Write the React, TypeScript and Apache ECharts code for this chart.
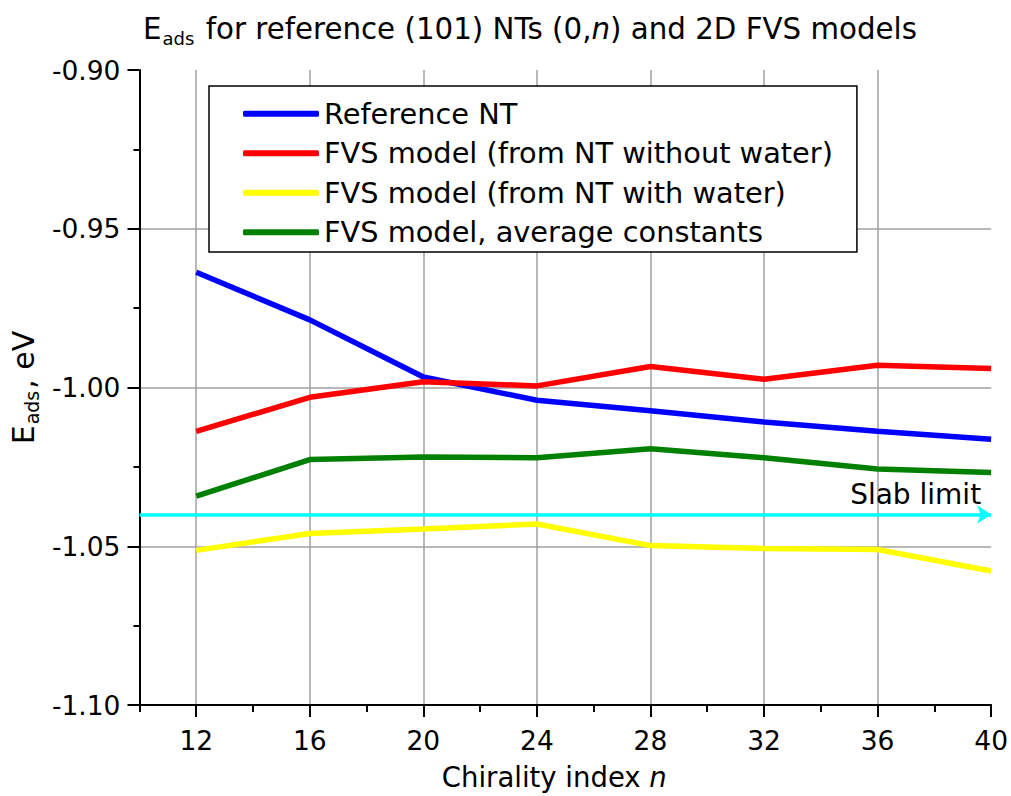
import React, { useEffect, useRef } from "react";
import * as echarts from "echarts";

const chirality = [12, 16, 20, 24, 28, 32, 36, 40];
const referenceNT = [-0.9637, -0.9787, -0.9967, -1.004, -1.0073, -1.0109, -1.0138, -1.0163];
const fvsNoWater = [-1.0138, -1.0031, -0.9982, -0.9995, -0.9934, -0.9974, -0.993, -0.994];
const fvsWithWater = [-1.0513, -1.046, -1.0446, -1.043, -1.0498, -1.0507, -1.051, -1.0578];
const fvsAverage = [-1.0342, -1.0227, -1.0219, -1.0221, -1.0193, -1.0221, -1.0257, -1.0268];
const slabLimit = -1.04;
const xMajorTicks = [12, 16, 20, 24, 28, 32, 36, 40];
const xMinorTicks = [10, 14, 18, 22, 26, 30, 34, 38];

const seriesNames = [
  "Reference NT",
  "FVS model (from NT without water)",
  "FVS model (from NT with water)",
  "FVS model, average constants",
];
const seriesColors = ["#0000ff", "#ff0000", "#ffff00", "#008000"];
const seriesValues = [referenceNT, fvsNoWater, fvsWithWater, fvsAverage];

const FONT = "DejaVu Sans";

export default function App() {
  const ref = useRef<HTMLDivElement>(null);
  useEffect(() => {
    if (!ref.current) return;
    const chart = echarts.init(ref.current, null, { renderer: "svg" });
    const lines = seriesNames.map((name, i) => ({
      name,
      type: "line",
      data: chirality.map((x, j) => [x, seriesValues[i][j]]),
      symbol: "none",
      lineStyle: { color: seriesColors[i], width: 5.5 },
      itemStyle: { color: seriesColors[i] },
      z: 3,
    }));
    chart.setOption({
      animation: false,
      backgroundColor: "#fff",
      title: {
        text: "{e|E}{s|ads}{e| for reference (101) NTs (0,}{i|n}{e|) and 2D FVS models}",
        left: 138,
        top: 6,
        textStyle: {
          fontWeight: "normal",
          rich: {
            e: { fontSize: 29.3, fontFamily: FONT, fontWeight: "normal", color: "#000", lineHeight: 36, verticalAlign: "middle" },
            i: { fontSize: 29.3, fontFamily: FONT, fontWeight: "normal", fontStyle: "italic", color: "#000", lineHeight: 36, verticalAlign: "middle" },
            s: { fontSize: 18, fontFamily: FONT, fontWeight: "normal", color: "#000", lineHeight: 18, verticalAlign: "bottom", padding: [0, 2, 0, 1] },
          },
        },
      },
      legend: {
        data: seriesNames,
        orient: "vertical",
        left: 209,
        top: 86,
        borderColor: "#000",
        borderWidth: 1.5,
        backgroundColor: "#fff",
        padding: [8, 24, 0, 34],
        itemGap: 0,
        itemWidth: 76,
        itemHeight: 6,
        icon: "roundRect",
        textStyle: { fontSize: 28.8, fontFamily: FONT, color: "#000", lineHeight: 39.5 },
        z: 10,
      },
      grid: { left: 137, right: 16, top: 70, bottom: 86, containLabel: false },
      xAxis: [
        {
          type: "value",
          min: 10,
          max: 40,
          name: "{t|Chirality index }{i|n}",
          nameLocation: "middle",
          nameGap: 58,
          nameTextStyle: {
            padding: [0, 22, 0, 0],
            rich: {
              t: { fontSize: 27.5, fontFamily: FONT, color: "#000" },
              i: { fontSize: 27.5, fontFamily: FONT, fontStyle: "italic", color: "#000" },
            },
          },
          axisLine: { show: true, onZero: false, lineStyle: { color: "#000", width: 2 } },
          axisTick: { show: true, customValues: xMajorTicks, length: 12, lineStyle: { color: "#000", width: 2 } },
          axisLabel: { customValues: xMajorTicks, fontSize: 26.5, fontFamily: FONT, color: "#000", margin: 22 },
          splitLine: { show: true, showMaxLine: false, lineStyle: { color: "#a0a0a0", width: 1.5 } },
        },
        {
          type: "value",
          min: 10,
          max: 40,
          position: "bottom",
          axisLine: { show: false, onZero: false },
          axisTick: { show: true, customValues: xMinorTicks, length: 7, lineStyle: { color: "#000", width: 2 } },
          axisLabel: { show: false, customValues: xMinorTicks },
          splitLine: { show: false },
        },
      ],
      yAxis: {
        type: "value",
        min: -1.1,
        max: -0.9,
        interval: 0.05,
        name: "{e|E}{s|ads}{e|, eV}",
        nameLocation: "middle",
        nameGap: 96,
        nameRotate: 90,
        nameTextStyle: {
          rich: {
            e: { fontSize: 30, fontFamily: FONT, color: "#000", lineHeight: 36, verticalAlign: "middle" },
            s: { fontSize: 19, fontFamily: FONT, color: "#000", lineHeight: 19, verticalAlign: "bottom", padding: [0, 2, 0, 1] },
          },
        },
        axisLine: { show: true, onZero: false, lineStyle: { color: "#000", width: 2 } },
        axisTick: { show: true, length: 12, lineStyle: { color: "#000", width: 2 } },
        minorTick: { show: true, splitNumber: 2, length: 6, lineStyle: { color: "#000", width: 2 } },
        axisLabel: {
          fontSize: 26.5,
          fontFamily: FONT,
          color: "#000",
          margin: 19,
          formatter: (v: number) => v.toFixed(2),
        },
        splitLine: { show: true, showMaxLine: false, lineStyle: { color: "#a0a0a0", width: 1.5 } },
      },
      series: [
        ...lines,
        {
          name: "Slab limit",
          type: "line",
          data: [],
          z: 4,
          markLine: {
            silent: true,
            symbol: ["none", "arrow"],
            symbolSize: 14,
            lineStyle: { color: "#00ffff", width: 3.5, type: "solid", opacity: 1 },
            emphasis: { disabled: true },
            label: {
              show: true,
              position: "insideEndTop",
              formatter: "Slab limit",
              fontSize: 28,
              fontFamily: FONT,
              color: "#000",
              distance: [10, 6],
            },
            data: [{ yAxis: slabLimit }],
          },
        },
      ],
    });
    return () => chart.dispose();
  }, []);
  return (
    <div
      ref={ref}
      style={{ position: "fixed", left: 0, top: 0, width: 1011, height: 796, background: "#fff" }}
    />
  );
}
